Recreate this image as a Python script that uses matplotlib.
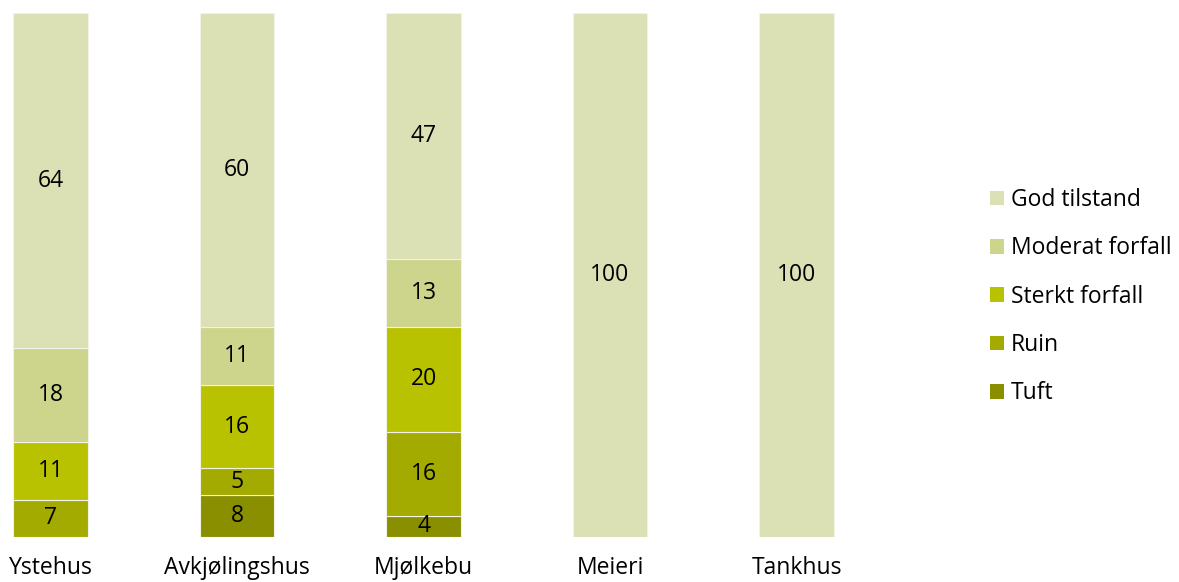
import matplotlib
matplotlib.use("Agg")
import matplotlib.pyplot as plt
from matplotlib.patches import Patch
import numpy as np

categories = ["Ystehus", "Avkjølingshus", "Mjølkebu", "Meieri", "Tankhus"]
series_names = ["Tuft", "Ruin", "Sterkt forfall", "Moderat forfall", "God tilstand"]
tuft = [0, 8, 4, 0, 0]
ruin = [7, 5, 16, 0, 0]
sterkt = [11, 16, 20, 0, 0]
moderat = [18, 11, 13, 0, 0]
god = [64, 60, 47, 100, 100]
series_values = [tuft, ruin, sterkt, moderat, god]
colors = ["#8A8F00", "#A3AA00", "#B9C200", "#CDD48C", "#DBE0B5"]

plt.rcParams['font.family'] = ['Open Sans', 'DejaVu Sans']
W, H = 1179, 582
fig = plt.figure(figsize=(W / 100, H / 100), dpi=100)

ax_left_px, ax_right_px = 0, 900
ax_top_px, ax_bot_px = 13, 536.5
ax = fig.add_axes([ax_left_px / W, (H - ax_bot_px) / H,
                   (ax_right_px - ax_left_px) / W, (ax_bot_px - ax_top_px) / H])
c0, step = 50.5, 186.5
ax.set_xlim((ax_left_px - c0) / step, (ax_right_px - c0) / step)
ax.set_ylim(0, 100)

x = np.arange(len(categories))
bottom = np.zeros(len(categories))
handles = []
for name, vals, col in zip(series_names, series_values, colors):
    vals = np.array(vals, dtype=float)
    ax.bar(x, vals, bottom=bottom, width=0.402, color=col,
           edgecolor="#F2F2E6", linewidth=0.8, label=name)
    for xi, v, b in zip(x, vals, bottom):
        if v > 0:
            ax.text(xi, b + v / 2, f"{int(v)}", ha="center", va="center",
                    fontsize=16.5, color="#000000")
    bottom += vals
    handles.append(Patch(facecolor=col, edgecolor="none", label=name))

for s in ax.spines.values():
    s.set_visible(False)
ax.set_yticks([])
ax.set_xticks(x)
ax.set_xticklabels(categories, fontsize=16.5)
ax.tick_params(axis="x", length=0, pad=14)

leg = fig.legend(handles=handles[::-1], loc="upper left",
                 bbox_to_anchor=(981 / W, 1 - 179 / H), frameon=False,
                 fontsize=16.5, handlelength=0.6, handleheight=0.6,
                 handletextpad=0.3, labelspacing=1.06, borderaxespad=0)

fig.savefig("out.png", dpi=100)
